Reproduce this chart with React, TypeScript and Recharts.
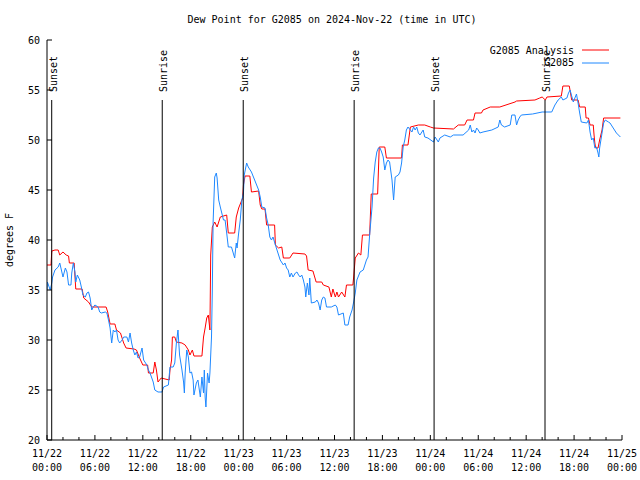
import React from 'react';
import { LineChart, Line, XAxis, YAxis, ReferenceLine, Legend } from 'recharts';

const FONT = '"DejaVu Sans Mono", monospace';

// hours since 2024-11-22 00:00 UTC
const tickHours = [0, 2, 4, 6, 8, 10, 12, 14, 16, 18, 20, 22, 24, 26, 28, 30, 32, 34, 36, 38, 40, 42, 44, 46, 48, 50, 52, 54, 56, 58, 60, 62, 64, 66, 68, 70, 72];
const labelHours = [0, 6, 12, 18, 24, 30, 36, 42, 48, 54, 60, 66, 72];
const labelDates = ['11/22', '11/22', '11/22', '11/22', '11/23', '11/23', '11/23', '11/23', '11/24', '11/24', '11/24', '11/24', '11/25'];
const labelTimes = ['00:00', '06:00', '12:00', '18:00', '00:00', '06:00', '12:00', '18:00', '00:00', '06:00', '12:00', '18:00', '00:00'];
const yTicks = [20, 25, 30, 35, 40, 45, 50, 55, 60];

const sunHours = [0.59, 14.43, 24.57, 38.46, 48.47, 62.36];
const sunNames = ['Sunset', 'Sunrise', 'Sunset', 'Sunrise', 'Sunset', 'Sunrise'];

const seriesNames = ['G2085 Analysis', 'G2085'];

// G2085 Analysis [hour, dew point F]
const analysis = [
  [0, 37.5], [0.5, 37.5], [0.6, 38.9], [1.0, 39.0], [1.4, 39.0], [1.6, 38.5], [2.0, 38.8], [2.4, 38.5], [2.7, 38.4], [2.8, 37.7],
  [3.4, 37.7], [3.6, 35.1], [4.4, 35.1], [4.6, 34.2], [5.2, 33.8], [5.6, 33.3], [7.4, 33.3], [7.6, 32.8], [7.9, 31.6], [8.5, 31.6],
  [8.7, 31.0], [9.2, 30.7], [9.6, 29.7], [9.9, 29.2], [10.9, 29.1], [11.2, 29.0], [11.6, 28.2], [12.0, 27.5], [12.6, 27.5], [12.7, 26.7],
  [13.3, 26.7], [13.5, 27.8], [13.7, 27.0], [13.9, 25.8], [14.3, 26.2], [15.3, 26.0], [15.4, 27.0], [15.6, 28.0], [15.7, 30.3], [16.0, 30.3],
  [16.2, 29.8], [16.9, 29.7], [17.3, 29.5], [17.7, 29.0], [17.9, 28.5], [18.2, 29.0], [18.4, 28.4], [19.4, 28.4], [19.6, 30.3], [19.8, 31.2],
  [20.0, 32.2], [20.2, 32.5], [20.4, 31.0], [20.5, 38.5], [20.7, 41.3], [21.0, 41.8], [21.3, 41.3], [21.7, 42.3], [22.5, 42.5], [22.7, 40.7],
  [23.5, 40.7], [23.7, 42.3], [24.0, 43.2], [24.5, 44.2], [24.6, 45.5], [24.8, 46.4], [25.4, 46.4], [25.6, 44.8], [26.5, 44.9], [26.7, 43.5],
  [26.9, 43.1], [27.3, 43.1], [27.5, 41.5], [28.5, 41.5], [28.6, 39.5], [29.0, 39.2], [29.4, 39.3], [29.6, 38.2], [30.4, 38.2], [30.8, 38.7],
  [32.3, 38.6], [32.5, 38.4], [32.7, 37.0], [33.3, 36.9], [33.7, 35.8], [34.4, 35.8], [34.6, 35.5], [35.3, 35.3], [35.6, 34.3], [35.8, 35.1],
  [36.1, 34.3], [36.3, 34.8], [36.5, 34.3], [36.9, 34.8], [37.3, 34.3], [37.5, 35.5], [38.3, 35.5], [38.4, 36.3], [38.6, 38.2], [39.0, 38.7],
  [39.3, 38.5], [39.5, 40.5], [40.4, 40.5], [40.6, 44.6], [41.4, 44.6], [41.6, 49.3], [42.3, 49.3], [42.5, 48.2], [44.4, 48.2], [44.5, 49.5],
  [45.2, 49.5], [45.5, 51.3], [46.5, 51.5], [47.3, 51.5], [48.0, 51.3], [48.4, 51.2], [50.9, 51.1], [51.5, 51.5], [52.3, 51.5], [52.6, 52.0],
  [53.4, 52.0], [53.6, 52.7], [54.4, 52.7], [54.6, 53.0], [55.5, 53.3], [56.7, 53.3], [58.6, 53.8], [58.8, 53.9], [61.1, 54.0], [61.7, 54.2],
  [62.0, 54.3], [62.4, 54.0], [62.6, 54.3], [64.4, 54.4], [64.6, 55.4], [65.4, 55.4], [65.7, 54.0], [66.5, 54.0], [66.7, 53.3], [67.4, 53.3],
  [67.5, 52.2], [67.8, 52.2], [68.0, 51.5], [68.4, 51.5], [68.5, 50.5], [68.6, 49.7], [68.7, 49.2], [69.0, 49.2], [69.2, 50.0], [69.5, 51.0],
  [69.7, 52.2], [71.8, 52.2],
];

// G2085 station [hour, dew point F]
const station = [
  [0, 35.0], [0.05, 35.8], [0.4, 35.0], [0.6, 35.7], [0.7, 36.3], [1.0, 37.0], [1.4, 37.3], [1.6, 37.7], [1.8, 37.0], [2.0, 36.3],
  [2.3, 37.2], [2.5, 36.8], [2.7, 35.5], [3.0, 35.5], [3.1, 36.7], [3.3, 37.7], [3.5, 36.8], [3.6, 35.8], [3.8, 36.5], [4.1, 36.0],
  [4.3, 35.3], [4.5, 34.5], [4.8, 34.3], [5.0, 34.7], [5.2, 34.8], [5.4, 34.2], [5.6, 33.0], [5.8, 33.3], [6.0, 33.5], [6.4, 33.3],
  [6.6, 32.8], [6.8, 32.7], [7.3, 32.8], [7.5, 32.7], [7.7, 32.0], [7.9, 31.2], [8.1, 29.7], [8.3, 31.0], [8.5, 30.8], [8.7, 31.0],
  [8.9, 30.0], [9.1, 29.7], [9.4, 30.0], [9.6, 30.3], [10.0, 30.3], [10.2, 29.8], [10.4, 30.7], [10.6, 29.7], [10.8, 29.0], [11.0, 28.5],
  [11.2, 28.8], [11.4, 28.2], [11.6, 28.3], [11.9, 29.2], [12.1, 28.0], [12.5, 27.5], [12.7, 27.0], [12.9, 26.7], [13.3, 25.8], [13.5, 25.0],
  [13.9, 24.8], [14.4, 24.8], [14.6, 25.3], [15.2, 25.5], [15.4, 27.3], [15.8, 27.3], [16.0, 27.7], [16.2, 29.7], [16.4, 31.0], [16.6, 28.5],
  [16.9, 27.0], [17.1, 25.8], [17.2, 24.7], [17.3, 26.7], [17.5, 29.0], [17.7, 28.3], [17.9, 26.7], [18.1, 26.8], [18.3, 26.0], [18.4, 24.5],
  [18.7, 25.7], [18.9, 26.0], [19.2, 24.3], [19.4, 26.3], [19.6, 24.7], [19.7, 27.0], [19.8, 24.3], [19.9, 23.3], [20.1, 26.7], [20.3, 25.7],
  [20.4, 26.7], [20.6, 30.3], [20.7, 35.0], [20.8, 41.8], [21.0, 46.3], [21.2, 46.7], [21.3, 46.2], [21.5, 44.0], [21.7, 43.3], [22.1, 42.0],
  [22.3, 42.0], [22.5, 40.7], [22.7, 39.3], [23.1, 39.3], [23.5, 38.2], [23.7, 39.7], [23.8, 39.2], [24.0, 40.7], [24.2, 42.0], [24.4, 44.0],
  [24.6, 44.7], [24.7, 46.5], [25.0, 47.7], [25.2, 47.3], [25.6, 46.8], [26.0, 46.0], [26.5, 45.0], [26.7, 44.3], [26.9, 43.3], [27.3, 43.2],
  [27.5, 42.2], [27.7, 41.5], [27.9, 40.3], [28.1, 40.0], [28.3, 40.3], [28.6, 39.5], [28.8, 39.0], [29.0, 38.5], [29.2, 38.0], [29.6, 37.5],
  [29.8, 37.7], [30.0, 37.2], [30.2, 37.0], [30.4, 36.3], [30.6, 36.7], [30.8, 36.3], [31.1, 36.7], [31.3, 36.8], [31.5, 36.5], [31.7, 36.3],
  [31.9, 36.5], [32.1, 36.0], [32.3, 35.3], [32.4, 34.3], [32.6, 35.7], [32.8, 34.5], [32.9, 36.2], [33.1, 33.7], [33.6, 33.8], [33.8, 34.0],
  [34.0, 33.7], [34.2, 33.0], [34.4, 34.0], [34.6, 34.3], [34.8, 34.2], [35.0, 33.3], [35.6, 33.3], [36.1, 33.5], [36.3, 33.3], [36.5, 32.5],
  [37.1, 32.7], [37.3, 31.5], [37.7, 31.5], [37.9, 32.3], [38.2, 33.0], [38.4, 33.8], [38.6, 34.7], [38.8, 36.0], [39.2, 36.8], [39.6, 37.0],
  [40.0, 38.0], [40.2, 38.3], [40.4, 40.5], [40.7, 43.3], [40.9, 46.2], [41.1, 47.8], [41.3, 48.8], [41.5, 49.2], [41.7, 49.2], [41.9, 48.8],
  [42.1, 48.3], [42.3, 47.0], [42.5, 47.7], [42.7, 48.0], [42.9, 47.8], [43.2, 46.0], [43.4, 44.0], [43.6, 46.3], [44.0, 46.5], [44.2, 46.8],
  [44.4, 47.7], [44.6, 49.3], [44.8, 50.0], [45.0, 51.0], [45.2, 51.3], [45.7, 50.8], [45.9, 51.3], [46.1, 51.0], [46.3, 51.3], [46.5, 50.7],
  [46.7, 50.5], [47.1, 51.0], [47.3, 50.3], [47.7, 50.2], [48.4, 49.8], [48.6, 50.3], [49.0, 49.8], [49.2, 50.2], [49.8, 50.5], [50.5, 50.3],
  [50.9, 50.5], [52.1, 50.5], [52.8, 51.0], [53.0, 51.5], [53.2, 50.8], [53.4, 51.0], [53.6, 50.7], [53.8, 51.2], [54.0, 51.0], [54.2, 50.7],
  [54.6, 50.8], [55.7, 51.0], [56.5, 51.3], [56.7, 52.0], [56.9, 51.5], [57.3, 51.3], [58.0, 51.5], [58.2, 52.5], [58.6, 52.5], [58.8, 51.5],
  [59.0, 52.0], [59.2, 52.3], [59.4, 52.5], [60.8, 52.6], [62.0, 52.8], [63.2, 52.8], [63.6, 53.5], [64.0, 54.0], [64.4, 54.3], [64.6, 54.0],
  [65.1, 54.2], [65.3, 54.7], [65.5, 55.0], [65.7, 54.4], [65.9, 53.8], [66.1, 54.2], [66.3, 54.6], [66.5, 53.7], [66.7, 52.7], [66.9, 51.8],
  [67.6, 51.7], [67.8, 52.0], [68.0, 50.8], [68.2, 50.0], [68.4, 50.2], [68.6, 49.2], [68.8, 49.3], [69.0, 48.7], [69.1, 48.3], [69.2, 49.2],
  [69.5, 50.7], [69.7, 51.7], [69.9, 52.0], [70.3, 51.8], [70.5, 51.7], [70.9, 51.2], [71.3, 50.7], [71.8, 50.3],
];

const toRows = (pts: number[][]) => pts.map(([h, v]) => ({ h, v }));

const BottomTick = (props: any) => {
  const { x, y, payload } = props;
  const i = labelHours.indexOf(payload.value);
  return (
    <g>
      <line x1={x} x2={x} y1={y} y2={y - (i >= 0 ? 5 : 3)} stroke="#000" />
      {i >= 0 && (
        <text x={x} y={y} textAnchor="middle" fontFamily={FONT} fontSize={10} fill="#000">
          <tspan x={x} dy={17}>{labelDates[i]}</tspan>
          <tspan x={x} dy={14}>{labelTimes[i]}</tspan>
        </text>
      )}
    </g>
  );
};

const TopTick = (props: any) => {
  const { x, y, payload } = props;
  const major = labelHours.indexOf(payload.value) >= 0;
  return <line x1={x} x2={x} y1={y} y2={y + (major ? 5 : 3)} stroke="#000" />;
};

const LeftTick = (props: any) => {
  const { x, y, payload } = props;
  return (
    <g>
      <line x1={x} x2={x + 5} y1={y} y2={y} stroke="#000" />
      <text x={x - 7} y={y} dy={3.5} textAnchor="end" fontFamily={FONT} fontSize={10} fill="#000">{payload.value}</text>
    </g>
  );
};

const RightTick = (props: any) => {
  const { x, y } = props;
  return <line x1={x} x2={x - 5} y1={y} y2={y} stroke="#000" />;
};

const renderLegend = (props: any) => {
  const items = [...(props.payload || [])].sort(
    (a: any, b: any) => seriesNames.indexOf(a.value) - seriesNames.indexOf(b.value)
  );
  return (
    <div style={{ fontFamily: FONT, fontSize: 10, color: '#000' }}>
      {items.map((e: any) => (
        <div key={e.value} style={{ display: 'flex', alignItems: 'center', height: 12.5 }}>
          <span style={{ width: 104, textAlign: 'right', whiteSpace: 'pre' }}>{e.value}</span>
          <svg width={35} height={12}>
            <line x1={8} x2={35} y1={6} y2={6} stroke={e.color} />
          </svg>
        </div>
      ))}
    </div>
  );
};

export default function App() {
  return (
    <div style={{ position: 'absolute', left: 0, top: 0, width: 640, height: 480, background: '#fff' }}>
      <div style={{ position: 'absolute', left: 0, top: 14, width: 664, textAlign: 'center', fontFamily: FONT, fontSize: 10, lineHeight: '12px' }}>
        Dew Point for G2085 on 2024-Nov-22 (time in UTC)
      </div>
      <LineChart width={640} height={480} margin={{ top: 40, right: 18, bottom: 10, left: 0 }}>
        <XAxis dataKey="h" type="number" domain={[0, 72]} ticks={tickHours} interval={0} allowDataOverflow
          height={30} tickSize={0} tickMargin={0} tickLine={false} axisLine={{ stroke: '#000' }} tick={<BottomTick />} />
        <XAxis xAxisId="top" orientation="top" dataKey="h" type="number" domain={[0, 72]} ticks={tickHours} interval={0}
          height={0} tickSize={0} tickMargin={0} tickLine={false} axisLine={{ stroke: '#000' }} tick={<TopTick />} />
        <YAxis type="number" domain={[20, 60]} ticks={yTicks} interval={0} width={47} allowDataOverflow
          tickSize={0} tickMargin={0} tickLine={false} axisLine={{ stroke: '#000' }} tick={<LeftTick />}
          label={(p: any) => {
            const vb = p.viewBox || { x: 0, y: 40, height: 400 };
            const cx = vb.x + 13;
            const cy = vb.y + vb.height / 2;
            return (
              <text x={cx} y={cy} transform={`rotate(-90, ${cx}, ${cy})`} textAnchor="middle" fontFamily={FONT} fontSize={10} fill="#000">
                degrees F
              </text>
            );
          }} />
        <YAxis yAxisId="right" orientation="right" type="number" domain={[20, 60]} ticks={yTicks} interval={0} width={0}
          tickSize={0} tickMargin={0} tickLine={false} axisLine={{ stroke: '#000' }} tick={<RightTick />} />
        <Legend layout="vertical" align="center" verticalAlign="middle" content={renderLegend}
          wrapperStyle={{ left: 470, top: 44, width: 150 }} />
        <Line data={toRows(analysis)} dataKey="v" name={seriesNames[0]} type="linear" stroke="#ff0000" strokeWidth={1}
          dot={false} activeDot={false} isAnimationActive={false} />
        <Line data={toRows(station)} dataKey="v" name={seriesNames[1]} type="linear" stroke="#1e88ff" strokeWidth={1}
          dot={false} activeDot={false} isAnimationActive={false} />
        {sunHours.map((h, i) => (
          <ReferenceLine key={i} segment={[{ x: h, y: 54 }, { x: h, y: 20 }]} stroke="#000" strokeWidth={1}
            label={(p: any) => {
              const vb = p.viewBox;
              const tx = vb.x + 5;
              const ty = vb.y - 8;
              return (
                <text x={tx} y={ty} transform={`rotate(-90, ${tx}, ${ty})`} textAnchor="start" fontFamily={FONT} fontSize={10} fill="#000">
                  {sunNames[i]}
                </text>
              );
            }} />
        ))}
      </LineChart>
    </div>
  );
}
